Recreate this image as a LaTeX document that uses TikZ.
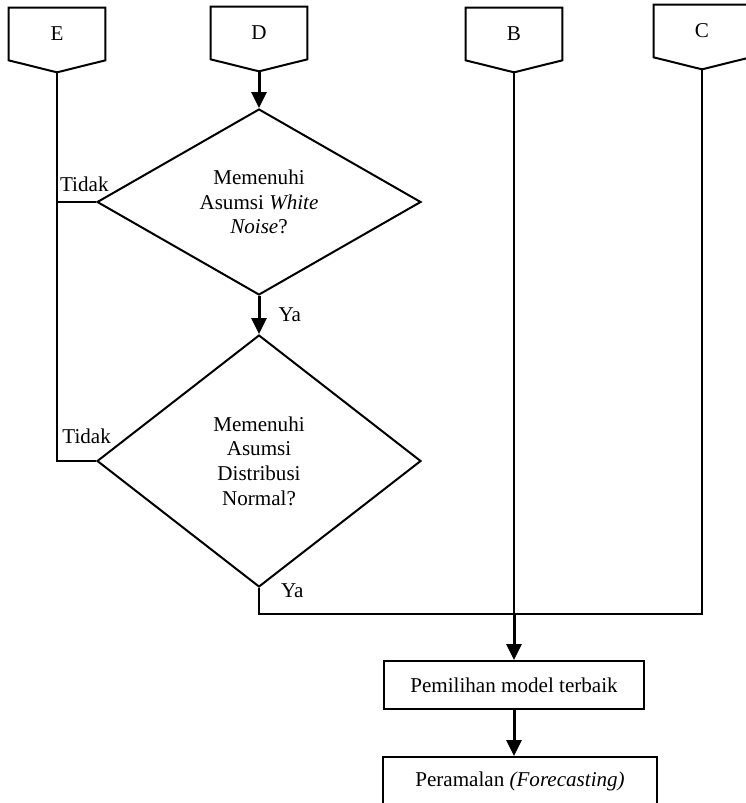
\documentclass[tikz,border=0pt]{standalone}
\usepackage{fontspec}
\setmainfont{Liberation Serif}
\usetikzlibrary{shapes.geometric,arrows.meta}

\begin{document}
\begin{tikzpicture}[x=0.02cm,y=-0.02cm,
		font=\fontsize{12}{14}\selectfont,
		line/.style={line width=0.04cm},
		arr/.style={line width=0.06cm,-{Triangle[length=0.32cm,width=0.3cm]}},
		conn/.style={minimum width=1.92cm,minimum height=1cm,inner sep=0pt},
		decision/.style={diamond,draw,line width=0.04cm,align=center,inner sep=0pt,aspect=1.5,minimum width=6.48cm},
		process/.style={rectangle,draw,line width=0.04cm,minimum height=0.96cm}]
		\useasboundingbox (0,0) rectangle (745,803);
		
		% penghubung dari halaman sebelumnya
		\node[conn] (E) at (57,34) {E};
		\node[conn] (D) at (259,33) {D};
		\node[conn] (B) at (514,34) {B};
		\node[conn] (C) at (702,31) {C};
		\foreach \n in {E,D,B,C}
			\draw[line] ([yshift=0.02cm]\n.north west) -- ([yshift=0.02cm]\n.north east) -- ([yshift=-0.02cm]\n.south east) -- ([yshift=-0.26cm]\n.south) coordinate (\n-tip) -- ([yshift=-0.02cm]\n.south west) -- cycle;
		
		\node[decision,minimum height=3.72cm] (wn) at (259,202) {Memenuhi\\Asumsi \textit{White}\\\textit{Noise}?};
		\node[decision,minimum height=5.04cm] (norm) at (259,461) {Memenuhi\\Asumsi\\Distribusi\\Normal?};
		\node[process,minimum width=5.2cm] (best) at (514,685) {Pemilihan model terbaik};
		\node[process,minimum width=5.5cm] (fc) at (520,781) {Peramalan \textit{(Forecasting)}};
		
		\coordinate (merge) at ([yshift=-0.52cm]norm.south -| B-tip);
		
		\draw[arr] (D-tip) -- (wn.north);
		\draw[arr] (wn.south) -- node[anchor=west,inner sep=0,xshift=0.36cm] {Ya} (norm.north);
		\draw[line] (wn.west) -- node[pos=0.3,above=2pt] {Tidak} (wn.west -| E-tip);
		\draw[line] (norm.west) -- node[pos=0.24,above=6pt] {Tidak} (E-tip |- norm.west) -- (E-tip);
		\draw[line] (norm.south) node[anchor=west,inner sep=0,xshift=0.42cm,yshift=-0.06cm] {Ya} |- (merge) -| (C-tip);
		\draw[line] (B-tip) -- (merge);
		\draw[arr] (merge) -- (merge |- best.north);
		\draw[arr] (best.south) -- (best.south |- fc.north);
		
	\end{tikzpicture}
\end{document}
